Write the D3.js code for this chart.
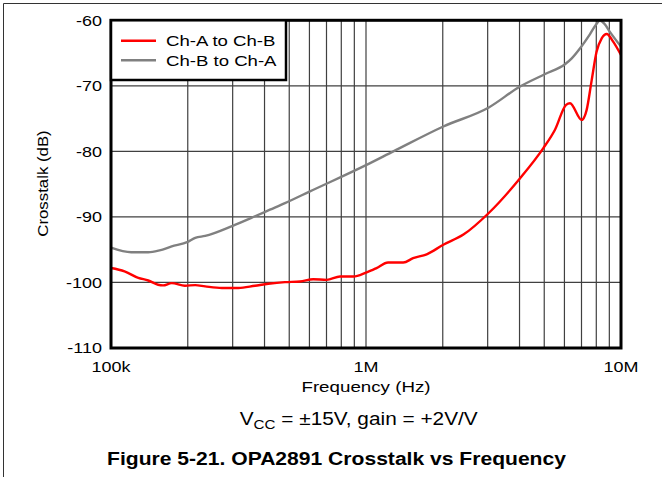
<!DOCTYPE html>
<html>
<head>
<meta charset="utf-8">
<script src="https://cdn.jsdelivr.net/npm/d3@7"></script>
<style>
  html, body { margin: 0; padding: 0; background: #fff; }
  svg { display: block; }
  text { font-family: "Liberation Sans", Arial, sans-serif; fill: #000; }
</style>
</head>
<body>
<script>
// ---------- data ----------
const seriesNames = ["Ch-A to Ch-B", "Ch-B to Ch-A"];
const seriesColors = ["#ff0000", "#808080"];

const redFreq = [100e3, 113e3, 128e3, 140e3, 153e3, 160e3, 173e3, 195e3, 214e3, 234e3, 272e3, 316e3, 367e3, 414e3, 481e3, 551e3, 621e3, 701e3, 791e3, 892e3, 1.0e6, 1.10e6, 1.22e6, 1.40e6, 1.53e6, 1.73e6, 2.01e6, 2.41e6, 3.03e6, 4.02e6, 4.96e6, 5.51e6, 6.09e6, 6.31e6, 7.01e6, 7.33e6, 7.67e6, 8.02e6, 8.4e6, 8.79e6, 9.33e6, 10e6];
const redDb = [-97.8, -98.3, -99.3, -99.7, -100.35, -100.45, -100.1, -100.5, -100.4, -100.6, -100.85, -100.85, -100.5, -100.2, -99.95, -99.85, -99.5, -99.6, -99.1, -99.1, -98.5, -97.8, -96.95, -96.95, -96.3, -95.7, -94.25, -92.7, -89.4, -84.1, -79.5, -76.7, -72.9, -72.65, -75.2, -73.7, -69.2, -64.8, -62.75, -62.1, -63.3, -65.3];

const grayFreq = [100e3, 120e3, 140e3, 155e3, 173e3, 200e3, 214e3, 234e3, 300e3, 367e3, 420e3, 481e3, 603e3, 1.0e6, 1.28e6, 2.01e6, 3.03e6, 4.02e6, 5.04e6, 6.03e6, 6.41e6, 6.9e6, 7.56e6, 8.0e6, 8.26e6, 8.6e6, 9.06e6, 10e6];
const grayDb = [-94.7, -95.4, -95.4, -95.1, -94.5, -93.8, -93.2, -92.9, -91.35, -89.9, -88.9, -87.9, -86.1, -82.1, -80.0, -76.2, -73.3, -70.1, -68.2, -66.7, -65.8, -64.3, -62.1, -60.6, -60.05, -60.5, -61.8, -64.0];

const xTickValues = [1e5, 1e6, 1e7];
const xTickLabels = ["100k", "1M", "10M"];
const yTickValues = [-60, -70, -80, -90, -100, -110];
const yTickLabels = ["-60", "-70", "-80", "-90", "-100", "-110"];

const xTitle = "Frequency (Hz)";
const yTitle = "Crosstalk (dB)";
const figTitle = "Figure 5-21. OPA2891 Crosstalk vs Frequency";

// ---------- layout ----------
const W = 662, H = 477;
const L = 111, R = 621, T = 20.3, B = 348;

const svg = d3.select("body").append("svg").attr("width", W).attr("height", H);

const x = d3.scaleLog().domain([1e5, 1e7]).range([L, R]);
const y = d3.scaleLinear().domain([-110, -60]).range([B, T]);

// figure frame (top & left)
svg.append("line").attr("x1", 3.5).attr("x2", W).attr("y1", 3.5).attr("y2", 3.5).attr("stroke", "#333").attr("stroke-width", 1);
svg.append("line").attr("x1", 3.5).attr("x2", 3.5).attr("y1", 3.5).attr("y2", H).attr("stroke", "#333").attr("stroke-width", 1);

// grid
const minorTicks = [];
[1e5, 1e6].forEach(d => { for (let k = 2; k <= 9; k++) minorTicks.push(d * k); });
minorTicks.push(1e6);
svg.append("g").selectAll("line").data(minorTicks).join("line")
  .attr("x1", d => x(d)).attr("x2", d => x(d)).attr("y1", T).attr("y2", B)
  .attr("stroke", "#404040").attr("stroke-width", 1.2);
svg.append("g").selectAll("line").data([-70, -80, -90, -100]).join("line")
  .attr("x1", L).attr("x2", R).attr("y1", d => y(d)).attr("y2", d => y(d))
  .attr("stroke", "#404040").attr("stroke-width", 1.2);

// curves
const line = d3.line().x(d => x(d[0])).y(d => y(d[1])).curve(d3.curveMonotoneX);
const redData = redFreq.map((f, i) => [f, redDb[i]]);
const grayData = grayFreq.map((f, i) => [f, grayDb[i]]);
svg.append("path").datum(grayData).attr("d", line).attr("fill", "none")
  .attr("stroke", seriesColors[1]).attr("stroke-width", 2.4).attr("stroke-linejoin", "round");
svg.append("path").datum(redData).attr("d", line).attr("fill", "none")
  .attr("stroke", seriesColors[0]).attr("stroke-width", 2.4).attr("stroke-linejoin", "round");

// plot frame
svg.append("rect").attr("x", L).attr("y", T).attr("width", R - L).attr("height", B - T)
  .attr("fill", "none").attr("stroke", "#000").attr("stroke-width", 3);

// text helper: stretched text
function addText(px, py, str, opts = {}) {
  const size = opts.size || 15, sx = opts.sx || 1, anchor = opts.anchor || "start";
  let tr = `translate(${px},${py})`;
  if (opts.rotate) tr += ` rotate(${opts.rotate})`;
  tr += ` scale(${sx},1)`;
  return svg.append("text").attr("transform", tr).attr("font-size", size)
    .attr("text-anchor", anchor).attr("font-weight", opts.bold ? "bold" : "normal").text(str);
}

// y tick labels
yTickValues.forEach((v, i) => addText(102, y(v) + 5.2, yTickLabels[i], { size: 14.5, sx: 1.24, anchor: "end" }));
// x tick labels
xTickValues.forEach((v, i) => addText(x(v), 371.7, xTickLabels[i], { size: 14.5, sx: 1.24, anchor: "middle" }));

// axis titles
addText(366, 391.5, xTitle, { size: 15, sx: 1.25, anchor: "middle" });
addText(47.5, 183.5, yTitle, { size: 14.5, sx: 1.16, anchor: "middle", rotate: -90 });

// legend
const lg = svg.append("g");
lg.append("rect").attr("x", L).attr("y", T).attr("width", 286 - L).attr("height", 80 - T)
  .attr("fill", "#fff").attr("stroke", "#000").attr("stroke-width", 2.5);
[40.7, 60.3].forEach((ly, i) => {
  lg.append("line").attr("x1", 121).attr("x2", 156).attr("y1", ly).attr("y2", ly)
    .attr("stroke", seriesColors[i]).attr("stroke-width", 2.4);
  addText(166, ly + 5.6, seriesNames[i], { size: 15, sx: 1.24 });
});

// condition line
const cond = svg.append("text").attr("transform", "translate(358.7,425) scale(1.125,1)")
  .attr("font-size", 18.5).attr("text-anchor", "middle");
cond.append("tspan").text("V");
cond.append("tspan").attr("font-size", 13.5).attr("dy", 3.5).text("CC");
cond.append("tspan").attr("dy", -3.5).text(" = ±15V, gain = +2V/V");

// figure title
addText(336.5, 465, figTitle, { size: 19, sx: 1.11, anchor: "middle", bold: true });
</script>
</body>
</html>
